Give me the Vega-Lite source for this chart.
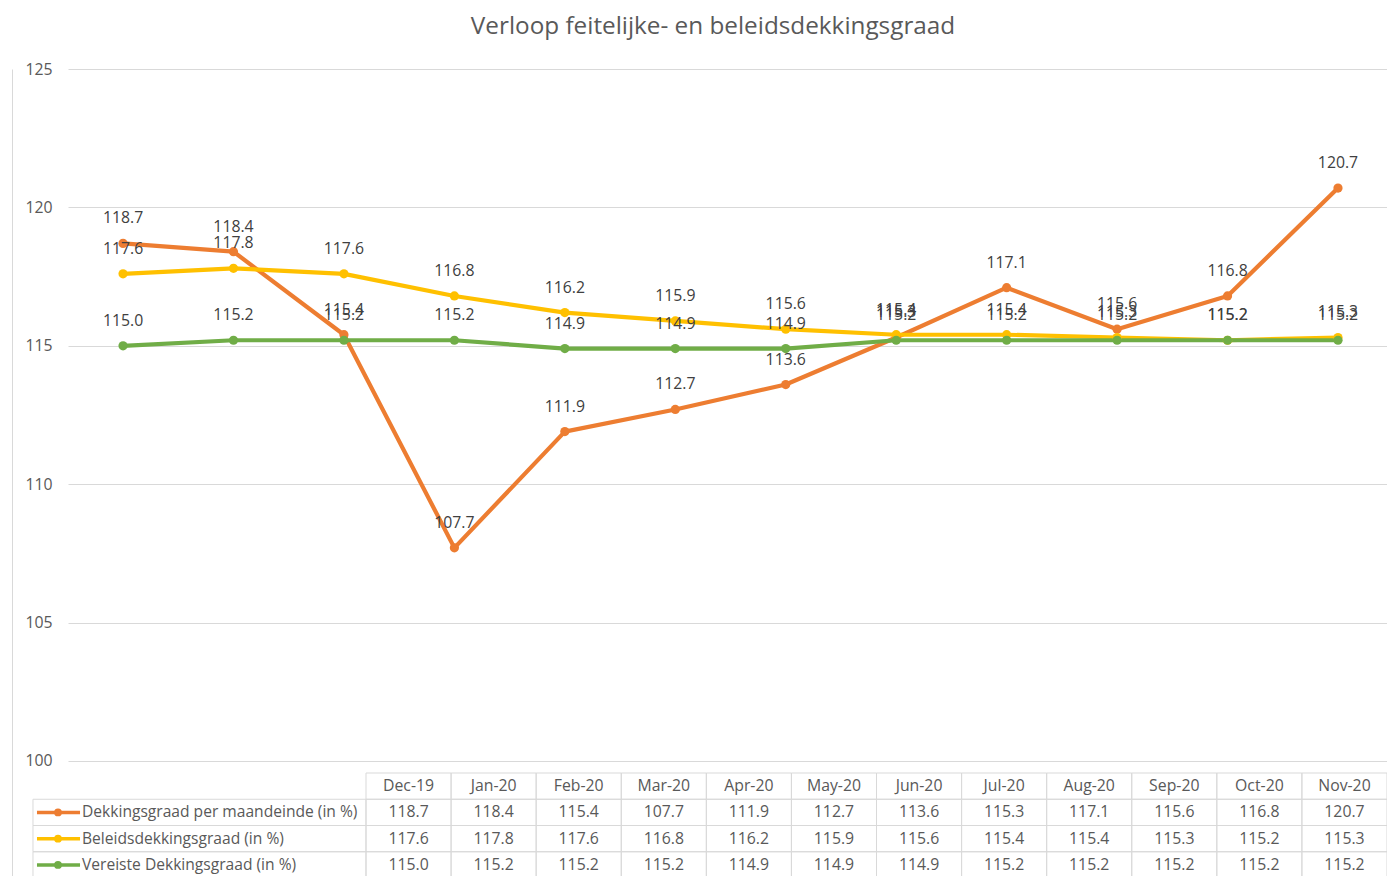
{
  "$schema": "https://vega.github.io/schema/vega-lite/v6.json",
  "width": 1319,
  "height": 807,
  "autosize": {"type": "none"},
  "padding": {"left": 68, "top": 69, "right": 0, "bottom": 0},
  "background": "white",
  "title": {"text": "Verloop feitelijke- en beleidsdekkingsgraad", "font": "Open Sans", "fontSize": 24.3, "fontWeight": "normal", "color": "#595959", "anchor": "middle", "frame": "group", "dx": -14.5, "offset": 22},
  "config": {"view": {"stroke": null}, "font": "Open Sans"},
  "datasets": {
    "d": [
      {"month": "Dec-19", "series": "Dekkingsgraad per maandeinde (in %)", "value": 118.7},
      {"month": "Jan-20", "series": "Dekkingsgraad per maandeinde (in %)", "value": 118.4},
      {"month": "Feb-20", "series": "Dekkingsgraad per maandeinde (in %)", "value": 115.4},
      {"month": "Mar-20", "series": "Dekkingsgraad per maandeinde (in %)", "value": 107.7},
      {"month": "Apr-20", "series": "Dekkingsgraad per maandeinde (in %)", "value": 111.9},
      {"month": "May-20", "series": "Dekkingsgraad per maandeinde (in %)", "value": 112.7},
      {"month": "Jun-20", "series": "Dekkingsgraad per maandeinde (in %)", "value": 113.6},
      {"month": "Jul-20", "series": "Dekkingsgraad per maandeinde (in %)", "value": 115.3},
      {"month": "Aug-20", "series": "Dekkingsgraad per maandeinde (in %)", "value": 117.1},
      {"month": "Sep-20", "series": "Dekkingsgraad per maandeinde (in %)", "value": 115.6},
      {"month": "Oct-20", "series": "Dekkingsgraad per maandeinde (in %)", "value": 116.8},
      {"month": "Nov-20", "series": "Dekkingsgraad per maandeinde (in %)", "value": 120.7},
      {"month": "Dec-19", "series": "Beleidsdekkingsgraad (in %)", "value": 117.6},
      {"month": "Jan-20", "series": "Beleidsdekkingsgraad (in %)", "value": 117.8},
      {"month": "Feb-20", "series": "Beleidsdekkingsgraad (in %)", "value": 117.6},
      {"month": "Mar-20", "series": "Beleidsdekkingsgraad (in %)", "value": 116.8},
      {"month": "Apr-20", "series": "Beleidsdekkingsgraad (in %)", "value": 116.2},
      {"month": "May-20", "series": "Beleidsdekkingsgraad (in %)", "value": 115.9},
      {"month": "Jun-20", "series": "Beleidsdekkingsgraad (in %)", "value": 115.6},
      {"month": "Jul-20", "series": "Beleidsdekkingsgraad (in %)", "value": 115.4},
      {"month": "Aug-20", "series": "Beleidsdekkingsgraad (in %)", "value": 115.4},
      {"month": "Sep-20", "series": "Beleidsdekkingsgraad (in %)", "value": 115.3},
      {"month": "Oct-20", "series": "Beleidsdekkingsgraad (in %)", "value": 115.2},
      {"month": "Nov-20", "series": "Beleidsdekkingsgraad (in %)", "value": 115.3},
      {"month": "Dec-19", "series": "Vereiste Dekkingsgraad (in %)", "value": 115.0},
      {"month": "Jan-20", "series": "Vereiste Dekkingsgraad (in %)", "value": 115.2},
      {"month": "Feb-20", "series": "Vereiste Dekkingsgraad (in %)", "value": 115.2},
      {"month": "Mar-20", "series": "Vereiste Dekkingsgraad (in %)", "value": 115.2},
      {"month": "Apr-20", "series": "Vereiste Dekkingsgraad (in %)", "value": 114.9},
      {"month": "May-20", "series": "Vereiste Dekkingsgraad (in %)", "value": 114.9},
      {"month": "Jun-20", "series": "Vereiste Dekkingsgraad (in %)", "value": 114.9},
      {"month": "Jul-20", "series": "Vereiste Dekkingsgraad (in %)", "value": 115.2},
      {"month": "Aug-20", "series": "Vereiste Dekkingsgraad (in %)", "value": 115.2},
      {"month": "Sep-20", "series": "Vereiste Dekkingsgraad (in %)", "value": 115.2},
      {"month": "Oct-20", "series": "Vereiste Dekkingsgraad (in %)", "value": 115.2},
      {"month": "Nov-20", "series": "Vereiste Dekkingsgraad (in %)", "value": 115.2}
    ]
  },
  "data": {"name": "d"},
  "layer": [
    {
      "encoding": {
        "x": {"field": "month", "type": "nominal", "scale": {"type": "point", "domain": ["Dec-19","Jan-20","Feb-20","Mar-20","Apr-20","May-20","Jun-20","Jul-20","Aug-20","Sep-20","Oct-20","Nov-20"], "padding": 0.471, "align": 0.529}, "axis": null},
        "y": {"field": "value", "type": "quantitative", "scale": {"domain": [95.845, 125], "nice": false, "zero": false},
          "axis": {"values": [100,105,110,115,120,125], "grid": true, "gridColor": "#d9d9d9", "gridWidth": 1, "ticks": false, "domain": true, "domainColor": "#d9d9d9", "domainWidth": 1, "offset": 56, "labelAlign": "left", "labelPadding": -13, "labelFont": "Open Sans", "labelFontSize": 15.8, "labelColor": "#595959", "labelBaseline": "middle", "title": null}},
        "color": {"field": "series", "type": "nominal", "scale": {"domain": ["Dekkingsgraad per maandeinde (in %)", "Beleidsdekkingsgraad (in %)", "Vereiste Dekkingsgraad (in %)"], "range": ["#ED7D31", "#FFC000", "#70AD47"]}, "legend": null}
      },
      "layer": [
        {"mark": {"type": "line", "strokeWidth": 4.2, "strokeJoin": "round", "strokeCap": "round"}},
        {"mark": {"type": "point", "filled": true, "size": 85, "opacity": 1}},
        {"mark": {"type": "text", "dy": -25, "baseline": "middle", "align": "center", "fontSize": 15.8, "font": "Open Sans"},
         "encoding": {"text": {"field": "value", "type": "quantitative", "format": ".1f"}, "color": {"value": "#404040"}}}
      ]
    },
    {
      "layer": [
        {
          "transform": [{"filter": "datum.series === 'Dekkingsgraad per maandeinde (in %)'"}],
          "mark": {"type": "rect", "filled": false, "stroke": "#d9d9d9", "strokeWidth": 1},
          "encoding": {
            "x": {"field": "month", "type": "nominal", "scale": {"type": "band", "domain": ["Dec-19","Jan-20","Feb-20","Mar-20","Apr-20","May-20","Jun-20","Jul-20","Aug-20","Sep-20","Oct-20","Nov-20"], "range": [298, 1319], "paddingInner": 0, "paddingOuter": 0}, "axis": null},
            "y": {"datum": "hdr", "type": "nominal", "scale": {"type": "band", "domain": ["hdr", "Dekkingsgraad per maandeinde (in %)", "Beleidsdekkingsgraad (in %)", "Vereiste Dekkingsgraad (in %)"], "range": [704, 809], "paddingInner": 0, "paddingOuter": 0}, "axis": null}
          }
        },
        {
          "mark": {"type": "rect", "filled": false, "stroke": "#d9d9d9", "strokeWidth": 1},
          "encoding": {
            "x": {"field": "month", "type": "nominal", "axis": null},
            "y": {"field": "series", "type": "nominal", "axis": null}
          }
        },
        {
          "transform": [{"filter": "datum.month === 'Dec-19'"}],
          "mark": {"type": "rect", "filled": false, "stroke": "#d9d9d9", "strokeWidth": 1},
          "encoding": {
            "x": {"datum": "Dec-19", "type": "nominal", "bandPosition": -3.914, "axis": null},
            "x2": {"datum": "Dec-19", "bandPosition": 0},
            "y": {"field": "series", "type": "nominal", "axis": null}
          }
        },
        {
          "transform": [{"filter": "datum.series === 'Dekkingsgraad per maandeinde (in %)'"}],
          "mark": {"type": "text", "fontSize": 15.8, "font": "Open Sans", "color": "#595959", "baseline": "middle", "align": "center"},
          "encoding": {
            "x": {"field": "month", "type": "nominal", "axis": null},
            "y": {"datum": "hdr", "type": "nominal", "axis": null},
            "text": {"field": "month"}
          }
        },
        {
          "mark": {"type": "text", "fontSize": 15.8, "font": "Open Sans", "color": "#595959", "baseline": "middle", "align": "center"},
          "encoding": {
            "x": {"field": "month", "type": "nominal", "axis": null},
            "y": {"field": "series", "type": "nominal", "axis": null},
            "text": {"field": "value", "type": "quantitative", "format": ".1f"}
          }
        },
        {
          "transform": [{"filter": "datum.month === 'Dec-19'"}],
          "mark": {"type": "rule", "strokeWidth": 3.5},
          "encoding": {
            "x": {"datum": "Dec-19", "type": "nominal", "bandPosition": -3.867, "axis": null},
            "x2": {"datum": "Dec-19", "bandPosition": -3.361},
            "y": {"field": "series", "type": "nominal", "axis": null},
            "color": {"field": "series", "type": "nominal", "legend": null}
          }
        },
        {
          "transform": [{"filter": "datum.month === 'Dec-19'"}],
          "mark": {"type": "point", "filled": true, "size": 60, "opacity": 1},
          "encoding": {
            "x": {"datum": "Dec-19", "type": "nominal", "bandPosition": -3.62, "axis": null},
            "y": {"field": "series", "type": "nominal", "axis": null},
            "color": {"field": "series", "type": "nominal", "legend": null}
          }
        },
        {
          "transform": [{"filter": "datum.month === 'Dec-19'"}],
          "mark": {"type": "text", "fontSize": 15.6, "font": "Open Sans", "color": "#595959", "baseline": "middle", "align": "left"},
          "encoding": {
            "x": {"datum": "Dec-19", "type": "nominal", "bandPosition": -3.338, "axis": null},
            "y": {"field": "series", "type": "nominal", "axis": null},
            "text": {"field": "series"}
          }
        }
      ]
    }
  ],
  "resolve": {"scale": {"x": "independent", "y": "independent", "color": "shared"}}
}
